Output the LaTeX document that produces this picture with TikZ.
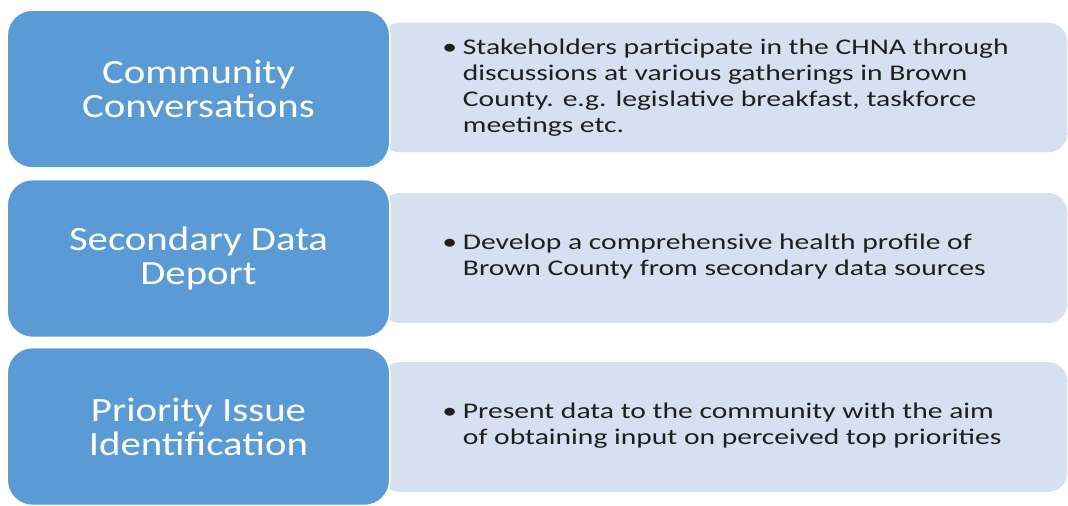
\documentclass[tikz,border=0pt]{standalone}
\usepackage{fontspec}
\setmainfont{Carlito}[FakeStretch=1.2]
\newfontfamily\itemfont{Carlito}[FakeStretch=1.32]
\tikzset{
  stagebox/.style={draw=white, line width=1.2pt, fill=stageblue, rounded corners=19pt,
    minimum width=287pt, minimum height=118.5pt, text=white, align=center,
    font=\fontsize{25.5}{25.5}\selectfont},
  detailbox/.style={draw=white, line width=0.8pt, fill=detailblue, rounded corners=15pt,
    minimum width=516pt, minimum height=98.25pt},
  itemtext/.style={anchor=west, inner sep=0pt, text=black!88,
    font=\itemfont\fontsize{16.8}{19.5}\selectfont}
}
\begin{document}
\begin{tikzpicture}[x=0.75pt, y=-0.75pt]
\definecolor{stageblue}{HTML}{5B9BD5}
\definecolor{detailblue}{HTML}{D6E0F0}
\useasboundingbox (0,0) rectangle (1068,506);
% light detail boxes
\node[detailbox] (convdetail) at (724,87.5) {};
\node[detailbox] (datadetail) at (724,258) {};
\node[detailbox] (prioritydetail) at (724,427) {};
% blue stage boxes on top
\node[stagebox] (conv) at (198.5,89) {Community\\Conversations};
\node[stagebox] (data) at (198.5,258.5) {Secondary Data\\Deport};
\node[stagebox] (priority) at (198.5,426.5) {Priority Issue\\Identification};
% bullet texts
\node[itemtext] (convtext) at (442,88.5) {\begin{tabular}{@{}p{15.5pt}@{}l@{}}
  \textbullet & Stakeholders participate in the CHNA through\\
  & discussions at various gatherings in Brown\\
  & County. e.g. legislative breakfast, taskforce\\
  & meetings etc.
\end{tabular}};
\node[itemtext] (datatext) at (442,257) {\begin{tabular}{@{}p{15.5pt}@{}l@{}}
  \textbullet & Develop a comprehensive health profile of\\
  & Brown County from secondary data sources
\end{tabular}};
\node[itemtext] (prioritytext) at (442,426) {\begin{tabular}{@{}p{15.5pt}@{}l@{}}
  \textbullet & Present data to the community with the aim\\
  & of obtaining input on perceived top priorities
\end{tabular}};
\end{tikzpicture}
\end{document}
